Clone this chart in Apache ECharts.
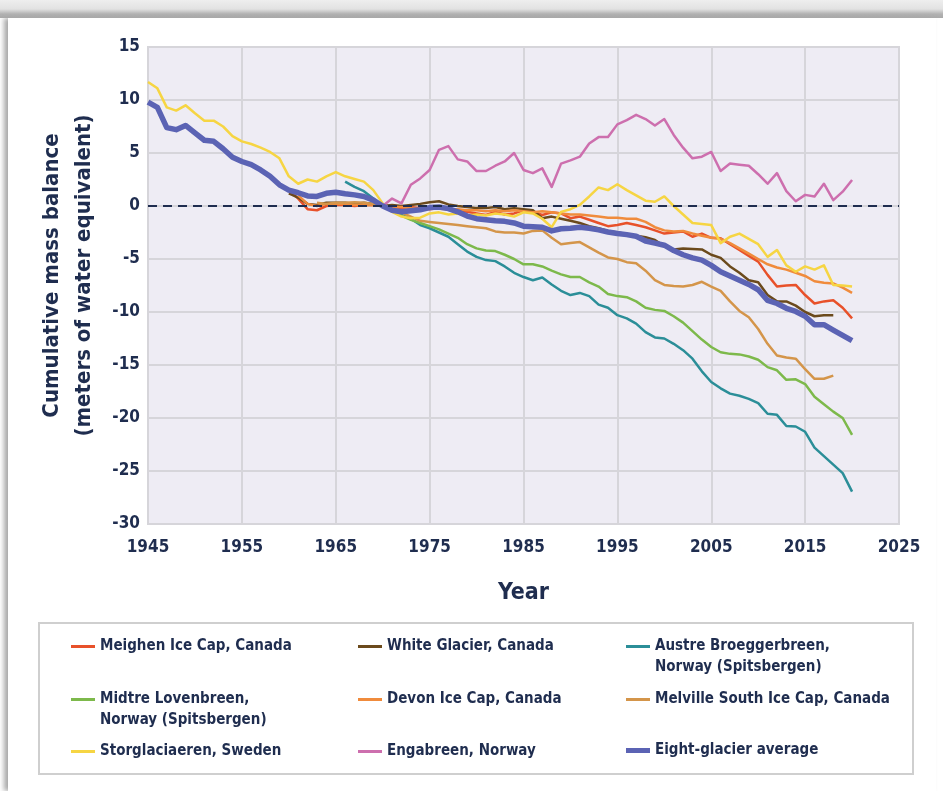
<!DOCTYPE html>
<html>
<head>
<meta charset="utf-8">
<title>Cumulative mass balance</title>
<script src="https://cdn.jsdelivr.net/npm/echarts@6/dist/echarts.min.js"></script>
<style>
html,body{margin:0;padding:0;width:943px;height:791px;overflow:hidden;background:#fff;}
#bg{position:absolute;left:0;top:0;width:943px;height:791px;
    background:linear-gradient(to bottom,#eeeeee 0,#e2e2e2 9px,#b2b2b2 14px,#a9a9a9 18px,#fff 18px);}
#card{position:absolute;left:8px;top:18px;width:928px;height:773px;background:#fff;
    box-shadow:-4px 0 5px #a8a8a8;}
#main{position:absolute;left:0;top:0;width:943px;height:791px;}
</style>
</head>
<body>
<div id="bg"></div>
<div id="card"></div>
<div id="main"></div>
<script>
// cumulative mass balance, meters of water equivalent
var meighenStart = 1960;
var meighen = [
    1.5, 0.7, -0.3, -0.4, 0.0, 0.1, 0.1, 0.0, 0.1, 0.1,
    0.0, -0.1, -0.2, -0.1, -0.2, -0.3, -0.2, -0.3, -0.4, -0.55,
    -0.7, -0.85, -0.55, -0.8, -0.7, -0.4, -0.55, -0.85, -0.6, -0.7,
    -1.15, -1.0, -1.3, -1.6, -1.9, -1.8, -1.6, -1.8, -2.0, -2.3,
    -2.6, -2.5, -2.4, -2.9, -2.6, -3.0, -3.05, -3.6, -4.15, -4.7,
    -5.25, -6.5, -7.6, -7.5, -7.45, -8.4, -9.2, -9.0, -8.9, -9.6, -10.6
];
var whiteStart = 1960;
var white = [
    1.2, 0.8, 0.2, 0.1, 0.3, 0.3, 0.3, 0.2, 0.3, 0.2,
    0.0, 0.1, 0.0, 0.1, 0.2, 0.35, 0.45, 0.15, 0.0, -0.1,
    -0.2, -0.2, -0.1, -0.3, -0.2, -0.3, -0.4, -1.15, -1.0, -1.2,
    -1.4, -1.6, -1.9, -2.1, -2.35, -2.5, -2.65, -2.8, -2.95, -3.2,
    -3.8, -4.1, -4.0, -4.05, -4.1, -4.6, -4.9, -5.7, -6.3, -7.0,
    -7.2, -8.4, -9.0, -9.0, -9.4, -10.0, -10.4, -10.3, -10.3
];
var austreStart = 1966;
var austre = [
    2.3, 1.8, 1.4, 0.7,
    0.0, -0.4, -0.85, -1.2, -1.8, -2.1, -2.5, -2.9, -3.6, -4.3,
    -4.8, -5.1, -5.2, -5.7, -6.3, -6.7, -7.0, -6.75, -7.4, -8.0,
    -8.4, -8.2, -8.5, -9.3, -9.6, -10.3, -10.6, -11.1, -11.9, -12.4,
    -12.5, -13.0, -13.6, -14.4, -15.6, -16.6, -17.2, -17.7, -17.9, -18.2,
    -18.6, -19.6, -19.7, -20.75, -20.8, -21.3, -22.8, -23.6, -24.4, -25.2, -26.95
];
var midtreStart = 1968;
var midtre = [
    0.9, 0.5,
    0.0, -0.5, -0.9, -1.3, -1.6, -1.9, -2.2, -2.6, -3.0, -3.6,
    -4.0, -4.2, -4.25, -4.6, -5.0, -5.5, -5.5, -5.7, -6.1, -6.45,
    -6.7, -6.7, -7.2, -7.6, -8.3, -8.5, -8.6, -9.0, -9.6, -9.8,
    -9.9, -10.4, -11.0, -11.8, -12.6, -13.3, -13.8, -13.95, -14.0, -14.2,
    -14.5, -15.2, -15.5, -16.4, -16.35, -16.8, -18.0, -18.7, -19.4, -20.0, -21.6
];
var devonStart = 1961;
var devon = [
    1.0, 0.2, 0.0, 0.2, 0.2, 0.2, 0.1, 0.1, 0.1,
    0.0, -0.1, -0.1, -0.2, -0.3, -0.2, -0.25, -0.3, -0.3, -0.4,
    -0.4, -0.5, -0.4, -0.5, -0.4, -0.5, -0.6, -0.5, -0.6, -0.7,
    -0.8, -0.8, -0.9, -1.0, -1.1, -1.1, -1.2, -1.2, -1.5, -2.0,
    -2.3, -2.4, -2.35, -2.6, -2.8, -3.0, -3.1, -3.5, -4.0, -4.5,
    -5.0, -5.5, -5.8, -6.0, -6.3, -6.6, -7.1, -7.25, -7.3, -7.7, -8.2
];
var melvilleStart = 1963;
var melville = [
    0.3, 0.2, 0.3, 0.3, 0.35, 0.3, 0.2,
    0.0, -0.3, -0.6, -1.0, -1.4, -1.5, -1.6, -1.7, -1.8, -1.9,
    -2.0, -2.1, -2.4, -2.5, -2.5, -2.6, -2.35, -2.3, -3.0, -3.6,
    -3.5, -3.4, -3.9, -4.4, -4.85, -5.0, -5.3, -5.4, -6.1, -7.0,
    -7.45, -7.55, -7.6, -7.45, -7.15, -7.6, -8.0, -9.0, -9.9, -10.5,
    -11.6, -13.0, -14.1, -14.3, -14.4, -15.4, -16.3, -16.3, -16.0
];
var storStart = 1945;
var stor = [
    11.7, 11.1, 9.3, 9.0, 9.5, 8.75, 8.05, 8.05, 7.5, 6.6,
    6.1, 5.85, 5.5, 5.1, 4.5, 2.8, 2.1, 2.5, 2.3, 2.8,
    3.2, 2.8, 2.55, 2.3, 1.5, 0.25, -0.55, -1.0, -1.15, -1.1,
    -0.7, -0.6, -0.8, -0.7, -0.9, -0.8, -0.9, -0.7, -0.8, -1.0,
    -0.6, -0.7, -1.2, -2.0, -0.55, -0.3, 0.1, 0.9, 1.75, 1.5,
    2.05, 1.5, 1.0, 0.5, 0.4, 0.9, 0.0, -0.8, -1.6, -1.7,
    -1.8, -3.5, -2.9, -2.6, -3.1, -3.6, -4.8, -4.15, -5.6, -6.2,
    -5.7, -6.0, -5.6, -7.45, -7.5, -7.6
];
var engaStart = 1970;
var enga = [
    0.0, 0.7, 0.25, 2.0, 2.6, 3.4, 5.3, 5.65, 4.4, 4.2,
    3.3, 3.3, 3.8, 4.2, 5.0, 3.4, 3.1, 3.55, 1.8, 4.0,
    4.3, 4.65, 5.9, 6.5, 6.5, 7.7, 8.1, 8.6, 8.2, 7.6,
    8.2, 6.7, 5.5, 4.5, 4.65, 5.1, 3.3, 4.0, 3.9, 3.8,
    3.0, 2.1, 3.1, 1.4, 0.45, 1.05, 0.9, 2.1, 0.55, 1.35, 2.45
];
var avgStart = 1945;
var avg = [
    9.8, 9.3, 7.4, 7.2, 7.6, 6.9, 6.2, 6.1, 5.4, 4.6,
    4.2, 3.9, 3.4, 2.8, 2.0, 1.5, 1.25, 0.95, 0.9, 1.2,
    1.3, 1.15, 1.05, 0.9, 0.55, 0.0, -0.4, -0.55, -0.45, -0.35,
    -0.15, -0.1, -0.25, -0.55, -0.95, -1.2, -1.3, -1.4, -1.45, -1.6,
    -1.9, -1.95, -2.0, -2.35, -2.15, -2.1, -2.0, -2.1, -2.25, -2.45,
    -2.6, -2.7, -2.85, -3.3, -3.5, -3.7, -4.2, -4.6, -4.9, -5.1,
    -5.6, -6.2, -6.6, -7.0, -7.4, -7.9, -8.9, -9.2, -9.65, -9.95,
    -10.4, -11.2, -11.2, -11.7, -12.2, -12.7
];
var yTicks = [15, 10, 5, 0, -5, -10, -15, -20, -25, -30];
var xTicks = [1945, 1955, 1965, 1975, 1985, 1995, 2005, 2015, 2025];

var navy = '#1f2d4f';
var font = '"DejaVu Sans Condensed", "DejaVu Sans", sans-serif';

function pairs(start, vals){
    var out = [];
    for(var i = 0; i < vals.length; i++){
        out.push([start + i, vals[i]]);
    }
    return out;
}

function glacier(name, color, start, vals, width, z){
    return {
        name: name,
        type: 'line',
        data: pairs(start, vals),
        showSymbol: false,
        symbol: 'none',
        z: z,
        lineStyle: {color: color, width: width, join: 'round'},
        itemStyle: {color: color}
    };
}

function legendItem(name, left, top, h){
    return {
        left: left,
        top: top,
        padding: 0,
        data: [name],
        itemWidth: 24,
        itemHeight: h,
        icon: 'rect',
        selectedMode: false,
        formatter: function(n){ return n.split('\n')[0]; },
        textStyle: {color: navy, fontSize: 15, fontWeight: 'bold', fontFamily: font}
    };
}

var myChart = echarts.init(document.getElementById('main'));

myChart.setOption({
    animation: false,
    grid: {
        left: 148, right: 44, top: 47, bottom: 267,
        show: true,
        backgroundColor: '#eeecf4',
        borderColor: '#d6d5da',
        borderWidth: 2
    },
    xAxis: {
        type: 'value',
        min: xTicks[0],
        max: xTicks[xTicks.length - 1],
        interval: 10,
        name: 'Year',
        nameLocation: 'middle',
        nameGap: 58,
        nameTextStyle: {color: navy, fontSize: 23, fontWeight: 'bold', fontFamily: font},
        axisLine: {show: false},
        axisTick: {show: false},
        axisLabel: {color: navy, fontSize: 17, fontWeight: 'bold', fontFamily: font, margin: 15,
            formatter: function(v){ return String(v); }},
        splitLine: {show: true, lineStyle: {color: '#d6d5da', width: 2}}
    },
    yAxis: {
        type: 'value',
        min: yTicks[yTicks.length - 1],
        max: yTicks[0],
        interval: 5,
        name: 'Cumulative mass balance\n(meters of water equivalent)',
        nameLocation: 'middle',
        nameRotate: 90,
        nameGap: 48,
        nameTextStyle: {color: navy, fontSize: 22, fontWeight: 'bold', fontFamily: font,
            lineHeight: 32, padding: [0, 0, 0, 20]},
        axisLine: {show: false},
        axisTick: {show: false},
        axisLabel: {color: navy, fontSize: 17, fontWeight: 'bold', fontFamily: font, margin: 8},
        splitLine: {show: true, lineStyle: {color: '#d6d5da', width: 2}}
    },
    legend: [
        legendItem('Meighen Ice Cap, Canada', 71, 639, 3),
        legendItem('White Glacier, Canada', 358, 639, 3),
        legendItem('Austre Broeggerbreen,\nNorway (Spitsbergen)', 626, 639, 3),
        legendItem('Midtre Lovenbreen,\nNorway (Spitsbergen)', 71, 692, 3),
        legendItem('Devon Ice Cap, Canada', 358, 692, 3),
        legendItem('Melville South Ice Cap, Canada', 626, 692, 3),
        legendItem('Storglaciaeren, Sweden', 71, 744, 3),
        legendItem('Engabreen, Norway', 358, 744, 3),
        legendItem('Eight-glacier average', 626, 743, 5)
    ],
    graphic: [
        {type: 'rect', left: 38, top: 622, z: -1,
            shape: {width: 874, height: 151},
            style: {fill: '#fff', stroke: '#cfcfcf', lineWidth: 2}},
        {type: 'text', left: 655, top: 660,
            style: {text: 'Norway (Spitsbergen)', fill: navy, fontSize: 15, fontWeight: 'bold', fontFamily: font}},
        {type: 'text', left: 100, top: 713,
            style: {text: 'Norway (Spitsbergen)', fill: navy, fontSize: 15, fontWeight: 'bold', fontFamily: font}}
    ],
    series: [
        {
            name: 'zero',
            type: 'line',
            data: [],
            z: 1,
            markLine: {
                silent: true,
                symbol: 'none',
                label: {show: false},
                lineStyle: {color: navy, type: [9, 6], width: 2},
                data: [{yAxis: 0}]
            }
        },
        glacier('Meighen Ice Cap, Canada', '#e8512a', meighenStart, meighen, 2.5, 3),
        glacier('White Glacier, Canada', '#6b4a1c', whiteStart, white, 2.5, 3),
        glacier('Austre Broeggerbreen,\nNorway (Spitsbergen)', '#2b8e98', austreStart, austre, 2.5, 3),
        glacier('Midtre Lovenbreen,\nNorway (Spitsbergen)', '#7db94b', midtreStart, midtre, 2.5, 3),
        glacier('Devon Ice Cap, Canada', '#f08b3c', devonStart, devon, 2.5, 3),
        glacier('Melville South Ice Cap, Canada', '#d4954a', melvilleStart, melville, 2.5, 3),
        glacier('Storglaciaeren, Sweden', '#f6d543', storStart, stor, 2.5, 3),
        glacier('Engabreen, Norway', '#cd6fae', engaStart, enga, 2.5, 3),
        glacier('Eight-glacier average', '#5b63b4', avgStart, avg, 5.5, 4)
    ]
});
</script>
</body>
</html>
